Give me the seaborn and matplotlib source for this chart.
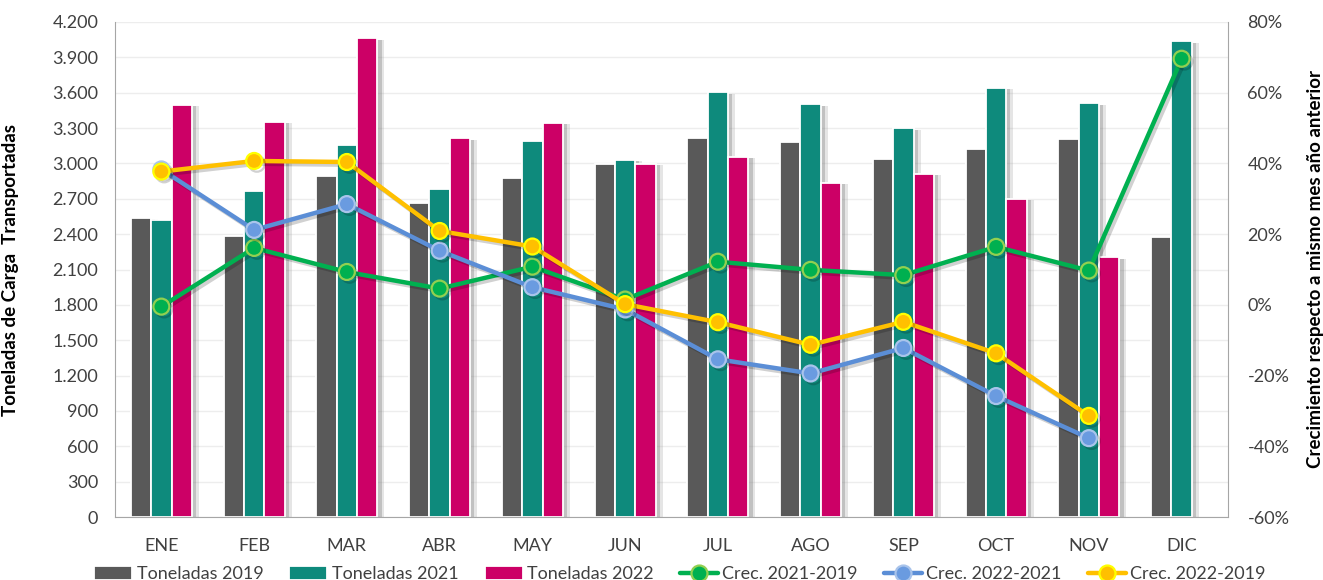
import matplotlib
matplotlib.use("Agg")
import matplotlib.patheffects as pe
import matplotlib.pyplot as plt
import numpy as np
import pandas as pd
import seaborn as sns
from matplotlib.ticker import FuncFormatter, FixedLocator, MultipleLocator

# --- DATA ---
MESES = ["ENE", "FEB", "MAR", "ABR", "MAY", "JUN", "JUL", "AGO", "SEP", "OCT", "NOV", "DIC"]
TON_2019 = [2537, 2384, 2893, 2662, 2874, 2998, 3216, 3185, 3038, 3122, 3205, 2376]
TON_2021 = [2523, 2769, 3159, 2781, 3190, 3029, 3604, 3502, 3298, 3640, 3510, 4036]
TON_2022 = [3496, 3352, 4062, 3213, 3343, 2998, 3055, 2834, 2910, 2701, 2203]  # sin DIC

CREC_21_19 = [-0.5, 16.1, 9.3, 4.6, 10.8, 1.5, 12.2, 9.9, 8.4, 16.4, 9.7, 69.6]
CREC_22_21 = [38.3, 21.2, 28.5, 15.3, 5.0, -1.3, -15.4, -19.4, -12.2, -25.8, -37.7]
CREC_22_19 = [37.7, 40.7, 40.4, 20.9, 16.5, 0.2, -4.9, -11.3, -4.8, -13.7, -31.4]

SERIES = ["Toneladas 2019", "Toneladas 2021", "Toneladas 2022"]
BAR_COLORS = ["#595959", "#0E8A7C", "#CC0066"]

# --- STYLE ---
sns.set_style("white")
plt.rcParams["font.family"] = ["Lato", "DejaVu Sans"]
TXT = "#404040"
GRID = "#EDEDED"
AXC = "#A6A6A6"
FS = 13

# long table for seaborn
rows = []
for serie, vals in zip(SERIES, [TON_2019, TON_2021, TON_2022]):
    for mes, v in zip(MESES, vals):
        rows.append({"mes": mes, "serie": serie, "valor": v})
df = pd.DataFrame(rows)

fig = plt.figure(figsize=(13.23, 5.8), dpi=100)
ax = fig.add_axes([115 / 1323, 1 - 517 / 580, 1113 / 1323, 495 / 580])

sns.barplot(
    data=df, x="mes", y="valor", hue="serie", order=MESES, hue_order=SERIES,
    palette=BAR_COLORS, saturation=1, width=0.66, errorbar=None,
    edgecolor="white", linewidth=1.3, ax=ax,
)
shadow = [
    pe.SimplePatchShadow(offset=(5, -1), shadow_rgbFace="#9a9a9a", alpha=0.25),
    pe.SimplePatchShadow(offset=(3, -1), shadow_rgbFace="#6f6f6f", alpha=0.3),
    pe.Normal(),
]
for p in ax.patches:
    p.set_path_effects(shadow)

bar_handles, bar_labels = ax.get_legend_handles_labels()
ax.get_legend().remove()

ax.set_ylim(0, 4200)
ax.yaxis.set_major_locator(MultipleLocator(300))
ax.yaxis.set_major_formatter(FuncFormatter(lambda v, _: f"{int(v):,}".replace(",", ".")))
ax.grid(axis="y", color=GRID, lw=1)
ax.set_axisbelow(True)
ax.set_xlabel("")
ax.set_ylabel("Toneladas de Carga  Transportadas", fontsize=13.5, fontweight="bold", color="black")
ax.yaxis.set_label_coords(-0.086, 0.5)

# --- LINES (right axis) ---
ax2 = ax.twinx()
x = np.arange(len(MESES))
line_specs = [
    ("Crec. 2021-2019", CREC_21_19, "#00B050", "#00B050", "#92D050"),
    ("Crec. 2022-2021", CREC_22_21, "#5B8ED6", "#6A9BE0", "#A9C4EB"),
    ("Crec. 2022-2019", CREC_22_19, "#FFC000", "#FFC000", "#FFFF00"),
]
line_fx = [pe.SimpleLineShadow(offset=(2, -2), alpha=0.18), pe.Normal()]
for label, vals, col, face, edge in line_specs:
    vals = np.array(vals) / 100
    sns.lineplot(
        x=x[: len(vals)], y=vals, ax=ax2, color=col, lw=3.2, marker="o",
        markersize=11.5, markerfacecolor=face, markeredgecolor=edge,
        markeredgewidth=1.6, label=label, path_effects=line_fx,
    )
line_handles, line_labels = ax2.get_legend_handles_labels()
ax2.get_legend().remove()

ax2.set_ylim(-0.6, 0.8)
ax2.yaxis.set_major_locator(MultipleLocator(0.2))
ax2.yaxis.set_major_formatter(FuncFormatter(lambda v, _: f"{v * 100:.0f}%"))
ax2.set_ylabel("Crecimiento respecto a mismo mes año anterior", fontsize=13.5,
               fontweight="bold", color="black", rotation=90)
ax2.yaxis.set_label_coords(1.071, 0.5)

ax.set_xlim(-0.5, len(MESES) - 0.5)

# spines and ticks
for a in (ax, ax2):
    for s in a.spines.values():
        s.set_visible(False)
ax.spines["left"].set_visible(True)
ax.spines["left"].set_color(AXC)
ax.spines["bottom"].set_visible(True)
ax.spines["bottom"].set_color(AXC)
ax2.spines["right"].set_visible(True)
ax2.spines["right"].set_color(AXC)

ax.tick_params(axis="y", length=0, labelsize=FS, labelcolor=TXT, pad=12)
ax2.tick_params(axis="y", length=0, labelsize=FS, labelcolor=TXT, pad=14)
ax.xaxis.set_minor_locator(FixedLocator(np.arange(-0.5, len(MESES), 1.0)))
ax.tick_params(axis="x", which="major", length=0, labelsize=FS, labelcolor=TXT, pad=15)
ax.tick_params(axis="x", which="minor", length=7, color=AXC, width=1)

# --- LEGEND ---
leg = fig.legend(
    bar_handles + line_handles, bar_labels + line_labels,
    loc="lower center", bbox_to_anchor=(0.514, -0.032), ncol=6, frameon=False,
    fontsize=FS, handlelength=2.1, handleheight=0.75, handletextpad=0.25,
    columnspacing=1.45, labelcolor=TXT,
)
for h in leg.legend_handles:
    h.set_path_effects([])

fig.savefig("out.png", dpi=100)
